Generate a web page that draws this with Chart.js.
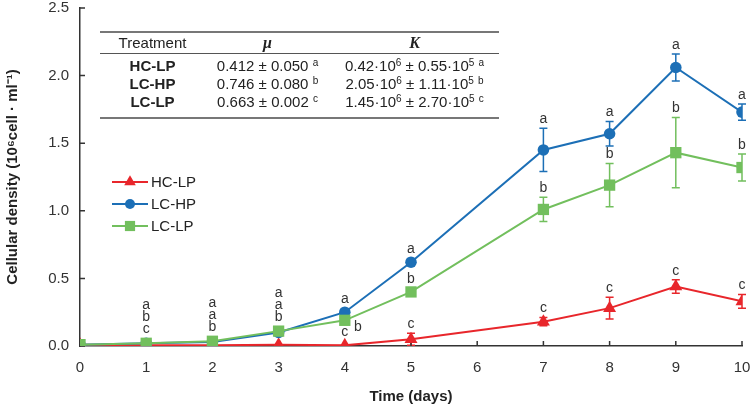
<!DOCTYPE html>
<html>
<head>
<meta charset="utf-8">
<script src="https://cdn.jsdelivr.net/npm/chart.js@4/dist/chart.umd.min.js"></script>
<style>
  body { margin: 0; background: #fff; }
  #wrap { position: relative; width: 752px; height: 411px; }
  #tbl {
    position: absolute; left: 100px; top: 31px; width: 399px;
    border-collapse: collapse; table-layout: fixed;
    font: 15px 'Liberation Sans', Arial, sans-serif; color: #222;
    border-top: 2px solid #777; border-bottom: 2px solid #777;
  }
  #tbl td, #tbl th { padding: 0; text-align: center; white-space: nowrap; font-weight: normal; }
  #tbl thead tr { height: 21px; }
  #tbl thead th { border-bottom: 1px solid #555; }
  #tbl tbody tr { height: 18px; }
  #tbl tbody tr.sp1 { height: 3px; }
  #tbl tbody tr.sp2 { height: 8px; }
  #tbl .sym { font: bold italic 16px 'Liberation Serif', 'Times New Roman', serif; }
  #tbl .nm { font-weight: bold; }
  #tbl sup { font-size: 10px; vertical-align: 5px; line-height: 0; }
</style>
</head>
<body>
<div id="wrap">
  <canvas id="c" width="752" height="411"></canvas>
  <table id="tbl">
    <colgroup><col style="width:105px"><col style="width:125px"><col style="width:169px"></colgroup>
    <thead><tr><th>Treatment</th><th class="sym">μ</th><th class="sym">K</th></tr></thead>
    <tbody id="tb"></tbody>
  </table>
</div>
<script>
// ---- datos ----
const days = [0, 1, 2, 3, 4, 5, 7, 8, 9, 10];

const hcLp    = [0.01, 0.005, 0.005, 0.01, 0.005, 0.05, 0.18, 0.28, 0.44, 0.33];
const hcLpErr = [0, 0, 0, 0, 0, 0.045, 0.03, 0.08, 0.05, 0.05];
const hcLpSig = ['', 'c', 'b', 'b', 'c', 'c', 'c', 'c', 'c', 'c'];

const lcHp    = [0.01, 0.02, 0.03, 0.1, 0.25, 0.62, 1.45, 1.57, 2.06, 1.73];
const lcHpErr = [0, 0, 0, 0, 0, 0, 0.16, 0.09, 0.1, 0.06];
const lcHpSig = ['', 'a', 'a', 'a', 'a', 'a', 'a', 'a', 'a', 'a'];

const lcLp    = [0.01, 0.02, 0.035, 0.11, 0.19, 0.40, 1.01, 1.19, 1.43, 1.32];
const lcLpErr = [0, 0, 0, 0, 0, 0, 0.09, 0.16, 0.26, 0.1];
const lcLpSig = ['', 'b', 'a', 'a', 'b', 'b', 'b', 'b', 'b', 'b'];

const yTicks = [0, 0.5, 1.0, 1.5, 2.0, 2.5];

// tabla de parámetros
const treatments = ['HC-LP', 'LC-HP', 'LC-LP'];
const muText = ['0.412 ± 0.050', '0.746 ± 0.080', '0.663 ± 0.002'];
const kMant = [['0.42', '0.55'], ['2.05', '1.11'], ['1.45', '2.70']];
const tableSig = ['a', 'b', 'c'];

const tb = document.getElementById('tb');
let rows = '<tr class="sp1"><td></td><td></td><td></td></tr>';
treatments.forEach((t, i) => {
  rows += '<tr><td class="nm">' + t + '</td><td>' + muText[i] + ' <sup>' + tableSig[i] + '</sup></td>' +
    '<td>' + kMant[i][0] + '·10<sup>6</sup> ± ' + kMant[i][1] + '·10<sup>5</sup> <sup>' + tableSig[i] + '</sup></td></tr>';
});
rows += '<tr class="sp2"><td></td><td></td><td></td></tr>';
tb.innerHTML = rows;

const RED = '#e8262b', BLUE = '#1c6fb6', GREEN = '#72bf5d';
const FONT = "'Liberation Sans', Arial, sans-serif";

const series = [
  { label: 'HC-LP', vals: hcLp, err: hcLpErr, sig: hcLpSig, color: RED, style: 'triangle', r: 7.5 },
  { label: 'LC-HP', vals: lcHp, err: lcHpErr, sig: lcHpSig, color: BLUE, style: 'circle', r: 5.8 },
  { label: 'LC-LP', vals: lcLp, err: lcLpErr, sig: lcLpSig, color: GREEN, style: 'rect', r: 8 }
];

// días en los que las letras se apilan (puntos superpuestos)
const stackedDays = [1, 2, 3];
const stackOrder = [1, 2, 0];

const errorBars = {
  id: 'errorBars',
  beforeDatasetsDraw(chart) {
    const ctx = chart.ctx, y = chart.scales.y;
    ctx.save();
    chart.data.datasets.forEach((ds, di) => {
      const meta = chart.getDatasetMeta(di);
      ds.errors.forEach((e, i) => {
        if (!e) return;
        const px = meta.data[i].x;
        const t = y.getPixelForValue(ds.data[i].y + e);
        const b = y.getPixelForValue(ds.data[i].y - e);
        ctx.strokeStyle = ds.borderColor;
        ctx.lineWidth = 1.5;
        ctx.beginPath();
        ctx.moveTo(px, t); ctx.lineTo(px, b);
        ctx.moveTo(px - 4, t); ctx.lineTo(px + 4, t);
        ctx.moveTo(px - 4, b); ctx.lineTo(px + 4, b);
        ctx.stroke();
      });
    });
    // marcas hacia dentro
    const x = chart.scales.x, a = chart.chartArea;
    ctx.strokeStyle = '#333';
    ctx.lineWidth = 1.5;
    ctx.beginPath();
    x.ticks.forEach(t => {
      const px = x.getPixelForValue(t.value);
      ctx.moveTo(px, a.bottom); ctx.lineTo(px, a.bottom - 5);
    });
    y.ticks.forEach(t => {
      const py = y.getPixelForValue(t.value);
      ctx.moveTo(a.left, py); ctx.lineTo(a.left + 5, py);
    });
    ctx.stroke();
    ctx.restore();
  }
};

const sigLetters = {
  id: 'sigLetters',
  afterDatasetsDraw(chart) {
    const ctx = chart.ctx, y = chart.scales.y;
    ctx.save();
    ctx.font = '14px ' + FONT;
    ctx.fillStyle = '#333';
    ctx.textAlign = 'center';
    ctx.textBaseline = 'middle';
    days.forEach((d, i) => {
      if (stackedDays.includes(d)) {
        const top = Math.min(...series.map(s => y.getPixelForValue(s.vals[i])));
        const px = chart.getDatasetMeta(0).data[i].x;
        stackOrder.forEach((si, k) => {
          ctx.fillText(series[si].sig[i], px, top - 14 - 12 * (stackOrder.length - 1 - k));
        });
        return;
      }
      series.forEach((s, si) => {
        if (!s.sig[i]) return;
        const p = chart.getDatasetMeta(si).data[i];
        if (si === 2 && d === 4) {
          ctx.fillText(s.sig[i], p.x + 13, p.y + 7);
          return;
        }
        const ty = s.err[i] ? y.getPixelForValue(s.vals[i] + s.err[i]) - 9 : p.y - 13;
        ctx.fillText(s.sig[i], p.x, ty);
      });
    });
    ctx.restore();
  }
};

const insideLegend = {
  id: 'insideLegend',
  afterDraw(chart) {
    const ctx = chart.ctx;
    ctx.save();
    series.forEach((s, i) => {
      const yy = 182 + i * 22;
      ctx.strokeStyle = s.color;
      ctx.lineWidth = 2;
      ctx.beginPath(); ctx.moveTo(112, yy); ctx.lineTo(148, yy); ctx.stroke();
      ctx.fillStyle = s.color;
      Chart.helpers.drawPoint(ctx, { pointStyle: s.style, radius: s.r - 0.8, borderWidth: 0, rotation: 0 }, 130, yy);
      ctx.fillStyle = '#222';
      ctx.font = '15px ' + FONT;
      ctx.textAlign = 'left';
      ctx.textBaseline = 'middle';
      ctx.fillText(s.label, 151, yy + 1);
    });
    ctx.restore();
  }
};

const order = [2, 1, 0];
new Chart(document.getElementById('c'), {
  type: 'scatter',
  data: {
    datasets: series.map((s, si) => ({
      label: s.label,
      data: days.map((d, i) => ({ x: d, y: s.vals[i] })),
      errors: s.err,
      showLine: true,
      borderColor: s.color,
      backgroundColor: s.color,
      borderWidth: 2,
      pointStyle: s.style,
      pointRadius: s.r,
      pointBorderWidth: 0,
      order: order[si]
    }))
  },
  options: {
    responsive: false,
    animation: false,
    devicePixelRatio: 1,
    layout: { padding: 0 },
    plugins: { legend: { display: false }, tooltip: { enabled: false } },
    scales: {
      x: {
        type: 'linear', min: 0, max: 10,
        grid: { display: false, drawTicks: false },
        border: { display: true, color: '#333', width: 1.5 },
        ticks: { stepSize: 1, padding: 13, color: '#333', font: { family: FONT, size: 15 } },
        title: { display: true, text: 'Time (days)', color: '#222', padding: { top: 0, bottom: 5 },
                 font: { family: FONT, size: 15, weight: 'bold' } },
        afterFit(scale) { scale.height = 65; scale.paddingLeft = 0; scale.paddingRight = 10; }
      },
      y: {
        min: 0, max: 2.5,
        afterBuildTicks(scale) { scale.ticks = yTicks.map(v => ({ value: v })); },
        grid: { display: false, drawTicks: false },
        border: { display: true, color: '#333', width: 1.5 },
        ticks: { padding: 11, color: '#333', font: { family: FONT, size: 15 }, callback: v => v.toFixed(1) },
        title: { display: true, text: 'Cellular density (10⁶cell · ml⁻¹)', color: '#222', padding: { top: 4, bottom: 0 },
                 font: { family: FONT, size: 15, weight: 'bold' } },
        afterFit(scale) { scale.width = 80; scale.paddingTop = 8; scale.paddingBottom = 0; }
      }
    }
  },
  plugins: [errorBars, sigLetters, insideLegend]
});
</script>
</body>
</html>
